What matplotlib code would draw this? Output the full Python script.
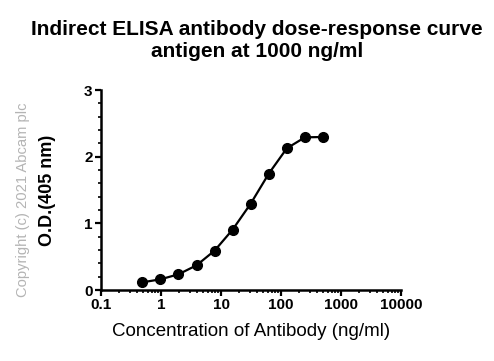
import numpy as np
import matplotlib
matplotlib.use('Agg')
import matplotlib.pyplot as plt
from matplotlib.ticker import MultipleLocator, LogLocator, NullFormatter, FixedLocator, FixedFormatter

plt.rcParams['font.family'] = ['Liberation Sans', 'DejaVu Sans']

# antibody concentrations (ng/ml), two-fold dilutions from 500
conc = [0.488, 0.977, 1.95, 3.91, 7.81, 15.6, 31.25, 62.5, 125, 250, 500]
od405 = [0.115, 0.16, 0.235, 0.37, 0.59, 0.905, 1.295, 1.745, 2.125, 2.29, 2.295]

x_ticks = [0.1, 1, 10, 100, 1000, 10000]
x_labels = ['0.1', '1', '10', '100', '1000', '10000']

fig = plt.figure(figsize=(4.94, 3.61), dpi=100)
ax = fig.add_axes([101 / 494, 1 - 290 / 361, 300 / 494, 200 / 361])

ax.plot(conc, od405, color='black', lw=1.6, marker='o', ms=7, clip_on=False, zorder=3)

ax.set_xscale('log')
ax.set_xlim(0.1, 10000)
ax.set_ylim(0, 3)
ax.xaxis.set_major_locator(FixedLocator(x_ticks))
ax.xaxis.set_major_formatter(FixedFormatter(x_labels))
ax.xaxis.set_minor_locator(LogLocator(base=10, subs=np.arange(2, 10)))
ax.xaxis.set_minor_formatter(NullFormatter())
ax.yaxis.set_major_locator(MultipleLocator(1))
ax.yaxis.set_minor_locator(MultipleLocator(0.2))

for s in ['top', 'right']:
    ax.spines[s].set_visible(False)
for s in ['left', 'bottom']:
    ax.spines[s].set_linewidth(1.8)

ax.tick_params(which='major', direction='out', length=4.5, width=1.6, labelsize=11, pad=1.5)
ax.tick_params(which='minor', direction='out', length=2.5, width=1.2)
for lab in ax.get_xticklabels() + ax.get_yticklabels():
    lab.set_fontweight('bold')

ax.set_xlabel('Concentration of Antibody (ng/ml)', fontsize=13.5, labelpad=8)
ax.set_ylabel('O.D.(405 nm)', fontsize=13, fontweight='bold', labelpad=20)

fig.suptitle('Indirect ELISA antibody dose-response curve\nantigen at 1000 ng/ml',
             x=257 / 494, y=1 - 20 / 361, fontsize=15, fontweight='bold', va='top',
             linespacing=1.22)
fig.text(23 / 494, 1 - 200 / 361, 'Copyright (c) 2021 Abcam plc', rotation=90,
         ha='center', va='center', fontsize=10.6, color='#b4b4b4')

fig.savefig('out.png', dpi=100)
